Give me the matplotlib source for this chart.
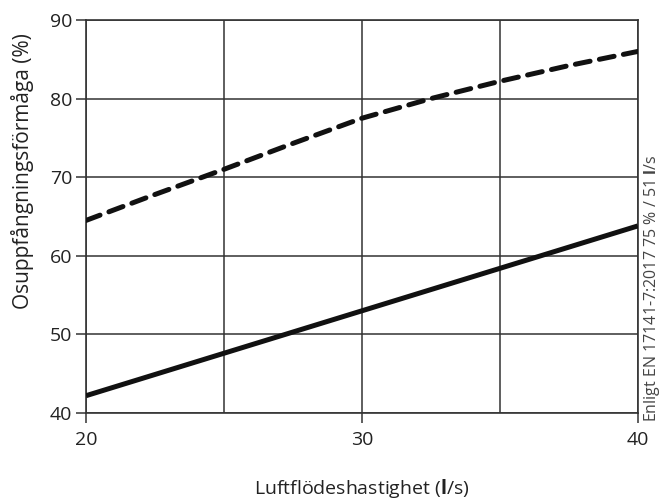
import matplotlib
matplotlib.use("Agg")
import matplotlib.pyplot as plt
from matplotlib.ticker import MultipleLocator

plt.rcParams['font.family'] = ['Open Sans', 'DejaVu Sans']
plt.rcParams['mathtext.fontset'] = 'custom'
plt.rcParams['mathtext.rm'] = 'Open Sans'
plt.rcParams['mathtext.bf'] = 'Open Sans:bold'

# luftflöde (l/s)
flow = [20, 22.5, 25, 27.5, 30, 32.5, 35, 37.5, 40]
# övre kurva (streckad)
dashed_vals = [64.5, 67.8, 71.0, 74.3, 77.5, 80.0, 82.2, 84.2, 86.0]
# undre kurva (heldragen)
solid_vals = [42.2, 44.9, 47.6, 50.3, 53.0, 55.7, 58.4, 61.1, 63.8]

x_ticks = [20, 30, 40]
y_ticks = [40, 50, 60, 70, 80, 90]
grid_col = '#333333'
txt_col = '#222222'

fig = plt.figure(figsize=(6.64, 5.0), dpi=100)
ax = fig.add_axes([0.1295, 0.174, 0.831, 0.786])

ax.plot(flow, dashed_vals, color='#111111', lw=3.6, linestyle=(0, (3.0, 1.9)),
        dash_capstyle='round', zorder=3)
ax.plot(flow, solid_vals, color='#111111', lw=3.6, solid_capstyle='butt', zorder=3)

ax.set_xlim(20, 40)
ax.set_ylim(40, 90)
ax.set_xticks(x_ticks)
ax.set_yticks(y_ticks)
ax.xaxis.set_minor_locator(MultipleLocator(5))
ax.grid(True, which='both', color=grid_col, lw=1.1, zorder=1)
ax.tick_params(which='major', direction='out', length=7, width=1.1, color=grid_col,
               labelsize=14, labelcolor=txt_col)
ax.tick_params(axis='x', pad=6)
ax.tick_params(axis='y', pad=3)
ax.tick_params(which='minor', length=0)
for s in ax.spines.values():
    s.set_color(grid_col)
    s.set_linewidth(1.2)

ax.set_ylabel('Osuppfångningsförmåga (%)', fontsize=15, color=txt_col, labelpad=8)
ax.yaxis.set_label_coords(-0.095, 0.616)
ax.set_xlabel(r'Luftflödeshastighet ($\mathbf{l}$/s)', fontsize=14, color=txt_col,
              labelpad=20)

fig.text(642 / 664, 78 / 500, r'Enligt EN 17141-7:2017 75 % / 51 $\mathbf{l}$/s',
         rotation=90, ha='left', va='bottom', fontsize=11.5, color='#444444')

fig.savefig('out.png', dpi=100)
